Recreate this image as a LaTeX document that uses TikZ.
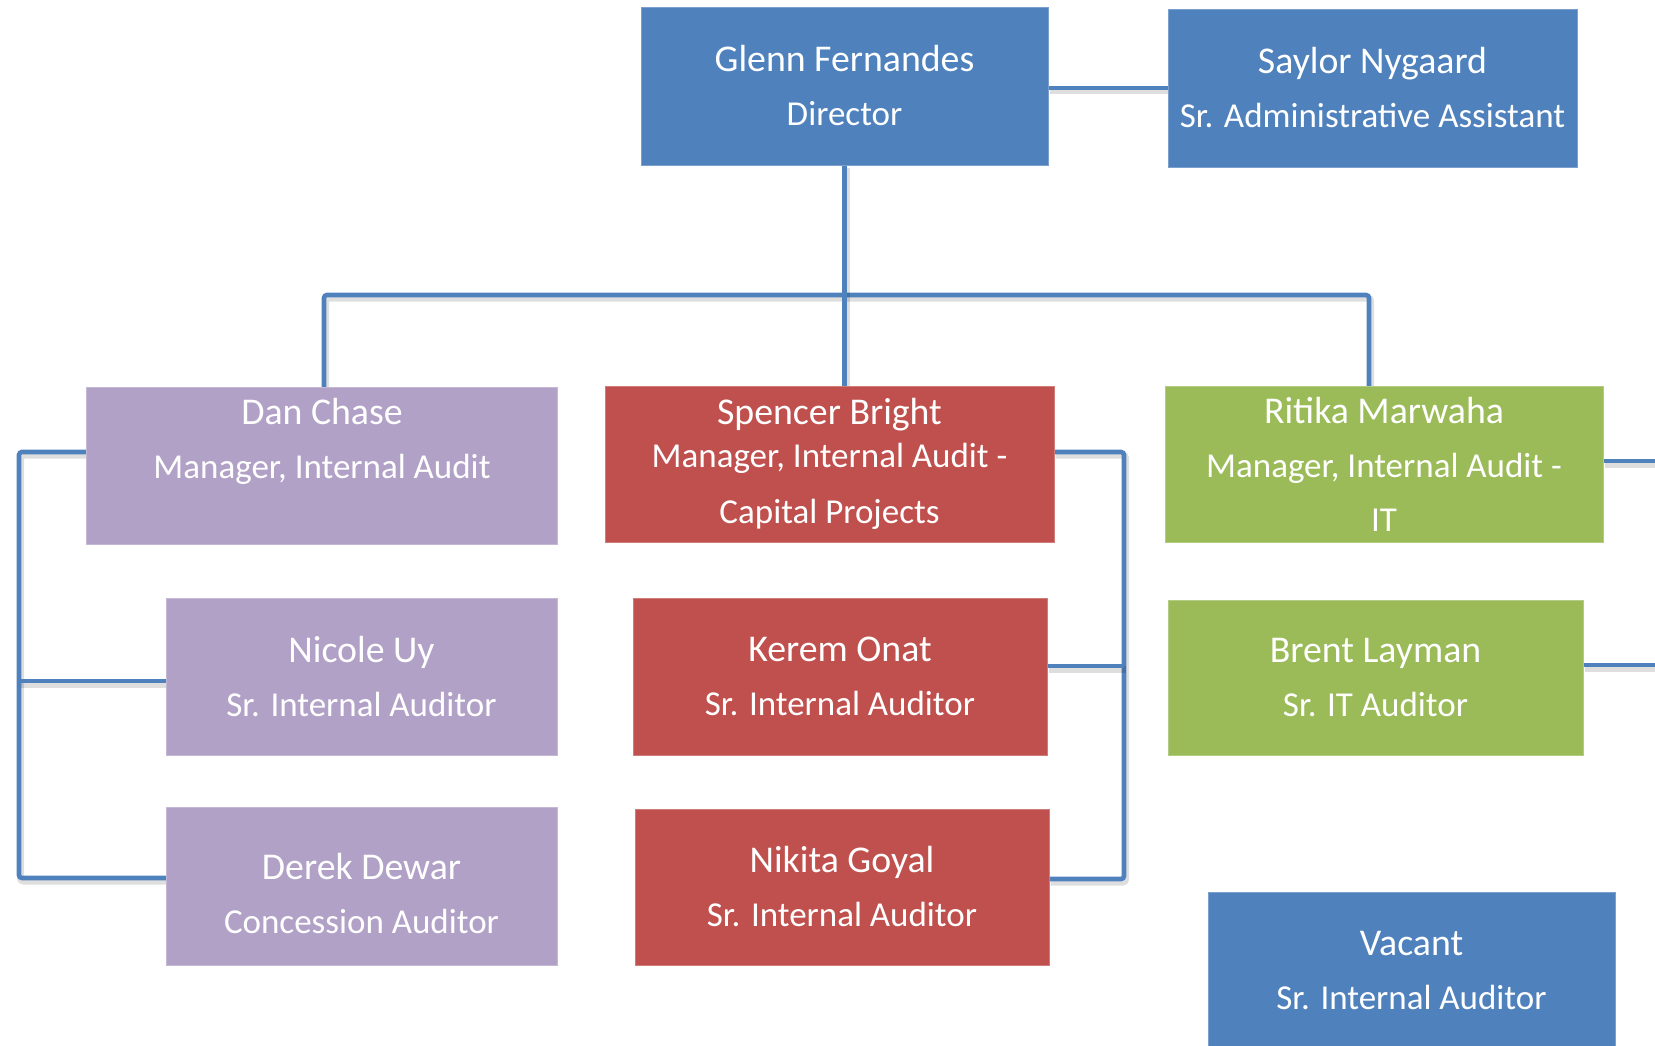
\documentclass[tikz,border=0pt]{standalone}
\usepackage{fontspec}
\setmainfont{Carlito}
\usetikzlibrary{backgrounds}
\definecolor{cblue}{HTML}{4F81BD}
\definecolor{cpurple}{HTML}{B1A1C7}
\definecolor{cred}{HTML}{C0504D}
\definecolor{cgreen}{HTML}{9BBB59}
\definecolor{cline}{HTML}{4F81BD}
\newcommand\nm[1]{{\fontsize{37.8}{54}\selectfont #1}}
\begin{document}
\begin{tikzpicture}[x=1pt,y=-1pt,
  box/.style={rectangle, inner sep=0pt, outer sep=0pt, align=center,
    text=white, font=\fontsize{35}{54}\selectfont, draw=#1!75!white, line width=0.8pt, fill=#1},
  txt/.style={inner sep=0pt, align=center, text=white, font=\fontsize{35}{54}\selectfont},
  conn/.style={draw=cline, line width=4.6pt, rounded corners=3pt,
    preaction={draw=black, draw opacity=0.13, line width=7pt,
      transform canvas={xshift=1.5pt,yshift=-3pt}}}]
\clip (0,0) rectangle (1655,1046);
% boxes
\node[box=cblue, minimum width=407, minimum height=158] (glenn) at (844.5,86) {\nm{Glenn Fernandes}\\Director};
\node[box=cblue, minimum width=409, minimum height=158] (saylor) at (1372.5,88) {\nm{Saylor Nygaard}\\Sr. Administrative Assistant};
\node[box=cpurple, minimum width=471, minimum height=157] (dan) at (322,465.5) {\nm{Dan Chase}\\Manager, Internal Audit\\ };
\node[box=cred, minimum width=449, minimum height=156] (spencer) at (829.5,464) {\nm{Spencer Bright}\\[-11pt]Manager, Internal Audit -\\[2pt]Capital Projects};
\node[box=cgreen, minimum width=438, minimum height=156] (ritika) at (1384,464) {\nm{Ritika Marwaha}\\Manager, Internal Audit -\\IT};
\node[box=cpurple, minimum width=391, minimum height=157] (nicole) at (361.5,676.5) {\nm{Nicole Uy}\\Sr. Internal Auditor};
\node[box=cpurple, minimum width=391, minimum height=158] (derek) at (361.5,886) {};
\node[txt] (derekT) at ([yshift=-7pt]derek.center) {\nm{Derek Dewar}\\Concession Auditor};
\node[box=cred, minimum width=414, minimum height=157] (kerem) at (840,676.5) {\nm{Kerem Onat}\\Sr. Internal Auditor};
\node[box=cred, minimum width=414, minimum height=156] (nikita) at (842,887) {\nm{Nikita Goyal}\\Sr. Internal Auditor};
\node[box=cgreen, minimum width=415, minimum height=155] (brent) at (1375.5,677.5) {\nm{Brent Layman}\\Sr. IT Auditor};
\node[box=cblue, minimum width=407, minimum height=158] (vacant) at (1411.5,971) {\nm{Vacant}\\Sr. Internal Auditor};
% connector points
\coordinate (busL) at (324,295);
\coordinate (busR) at (1369,295);
\coordinate (lbT) at (19,452);
\coordinate (lbM) at (19,681);
\coordinate (lbB) at (19,878);
\coordinate (rbT) at (1124,452);
\coordinate (rbM) at (1124,666);
\coordinate (rbB) at (1124,879);
\coordinate (rOut) at (1660,461);
\coordinate (bOut) at (1660,665);
\begin{scope}[on background layer]
\draw[conn] (glenn.east |- saylor.west) -- (saylor.west);
\draw[conn] (busL |- dan.north) -- (busL) -- (busR) -- (busR |- ritika.north);
\draw[conn] (glenn.south) -- (glenn.south |- spencer.north);
\draw[conn] (dan.west |- lbT) -- (lbT) -- (lbB) -- (derek.west |- lbB);
\draw[conn] (lbM) -- (nicole.west |- lbM);
\draw[conn] (spencer.east |- rbT) -- (rbT) -- (rbB) -- (nikita.east |- rbB);
\draw[conn] (kerem.east |- rbM) -- (rbM);
\draw[conn] (ritika.east |- rOut) -- (rOut);
\draw[conn] (brent.east |- bOut) -- (bOut);
\end{scope}
\end{tikzpicture}
\end{document}
